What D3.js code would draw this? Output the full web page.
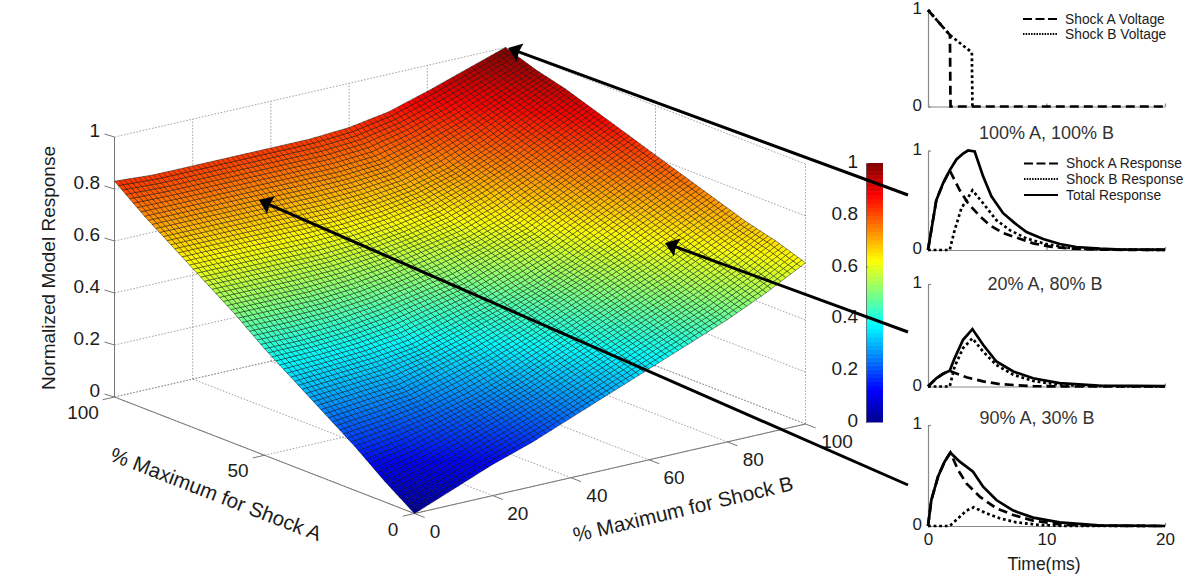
<!DOCTYPE html>
<html>
<head>
<meta charset="utf-8">
<title>Normalized model response</title>
<script src="https://cdn.jsdelivr.net/npm/d3@7"></script>
<style>
  html, body { margin: 0; background: #fff; }
  svg { display: block; }
  text { font-family: "Liberation Sans", Arial, sans-serif; fill: #1c1c1c; }
</style>
</head>
<body>
<svg id="chart" width="1200" height="579"></svg>
<script>
// values
const shockA = [0, 10, 20, 30, 40, 50, 60, 70, 80, 90, 100];
const shockB = [0, 10, 20, 30, 40, 50, 60, 70, 80, 90, 100];
// one row per shockA value, one column per shockB value
const responseGrid = [
  [0.00, 0.06, 0.12, 0.17, 0.23, 0.29, 0.35, 0.41, 0.47, 0.54, 0.62],
  [0.08, 0.12, 0.17, 0.22, 0.27, 0.33, 0.39, 0.45, 0.51, 0.58, 0.66],
  [0.17, 0.19, 0.22, 0.26, 0.31, 0.37, 0.43, 0.49, 0.55, 0.62, 0.69],
  [0.25, 0.265, 0.28, 0.32, 0.36, 0.41, 0.47, 0.53, 0.59, 0.66, 0.73],
  [0.33, 0.34, 0.35, 0.37, 0.41, 0.45, 0.50, 0.56, 0.63, 0.70, 0.77],
  [0.41, 0.41, 0.42, 0.44, 0.47, 0.50, 0.55, 0.60, 0.67, 0.74, 0.81],
  [0.50, 0.50, 0.50, 0.51, 0.53, 0.56, 0.59, 0.64, 0.71, 0.78, 0.85],
  [0.58, 0.58, 0.58, 0.58, 0.59, 0.61, 0.64, 0.69, 0.75, 0.82, 0.89],
  [0.66, 0.66, 0.66, 0.66, 0.66, 0.67, 0.69, 0.73, 0.79, 0.86, 0.93],
  [0.74, 0.74, 0.74, 0.74, 0.74, 0.74, 0.75, 0.79, 0.84, 0.90, 0.96],
  [0.83, 0.82, 0.82, 0.82, 0.82, 0.82, 0.83, 0.855, 0.90, 0.95, 1.00]
];
const zTicks = [0, 0.2, 0.4, 0.6, 0.8, 1];
const shockATicks = [0, 50, 100];
const shockBTicks = [0, 20, 40, 60, 80, 100];

const voltageA = [[0, 1], [1.85, 0.74], [1.9, 0], [20, 0]];
const voltageB = [[0, 1], [1.85, 0.74], [3.7, 0.56], [3.75, 0]];

const total100x100 = [[0, 0], [0.28, 0.2], [0.7, 0.5], [1.27, 0.67], [1.83, 0.8], [2.4, 0.91], [2.96, 0.97], [3.38, 1], [3.94, 0.99], [4.65, 0.74], [5.35, 0.54], [6.34, 0.37], [7.32, 0.27], [8.31, 0.18], [9.72, 0.11], [11.13, 0.06], [12.5, 0.03], [14.5, 0.013], [15.9, 0.007], [20, 0.003]];
const shockA100x100 = [[0, 0], [0.28, 0.2], [0.7, 0.5], [1.27, 0.67], [1.83, 0.8], [2.68, 0.6], [3.38, 0.47], [4.37, 0.34], [5.2, 0.25], [6.34, 0.17], [7.46, 0.125], [8.87, 0.067], [10.3, 0.034], [12.25, 0.013], [14.5, 0.003], [20, 0]];
const shockB100x100 = [[0, 0], [1.83, 0], [2.25, 0.2], [2.82, 0.42], [3.24, 0.5], [3.75, 0.6], [4.65, 0.47], [5.77, 0.3], [6.9, 0.2], [8.3, 0.117], [9.72, 0.067], [11.7, 0.023], [14.5, 0.007], [20, 0]];

const total20x80 = [[0, 0], [0.7, 0.08], [1.27, 0.124], [1.83, 0.153], [2.25, 0.277], [2.96, 0.456], [3.75, 0.56], [4.65, 0.407], [5.77, 0.244], [7.2, 0.147], [8.87, 0.08], [11.1, 0.033], [14.4, 0.01], [20, 0.003]];
const shockA20x80 = [[0, 0], [0.7, 0.08], [1.27, 0.124], [1.83, 0.153], [3.24, 0.09], [4.65, 0.05], [6.06, 0.023], [8.87, 0.003], [11.7, 0], [20, 0]];
const shockB20x80 = [[0, 0], [1.83, 0], [2.25, 0.195], [2.96, 0.375], [3.75, 0.47], [4.65, 0.34], [5.77, 0.21], [7.2, 0.114], [8.87, 0.055], [11.1, 0.016], [14.4, 0.003], [20, 0]];

const total90x30 = [[0, 0], [0.28, 0.257], [0.85, 0.49], [1.4, 0.637], [1.89, 0.726], [2.68, 0.637], [3.8, 0.538], [4.65, 0.389], [5.77, 0.257], [7.2, 0.152], [8.87, 0.083], [11.1, 0.036], [14.4, 0.007], [20, 0]];
const shockA90x30 = [[0, 0], [0.28, 0.257], [0.85, 0.49], [1.4, 0.637], [1.89, 0.726], [2.54, 0.554], [3.24, 0.422], [4.37, 0.29], [5.77, 0.175], [7.2, 0.109], [8.87, 0.053], [11.1, 0.017], [14.4, 0.003], [20, 0]];
const shockB90x30 = [[0, 0], [1.83, 0], [2.54, 0.076], [3.24, 0.152], [3.86, 0.185], [4.93, 0.125], [6.06, 0.076], [7.46, 0.036], [9.44, 0.01], [11.7, 0], [20, 0]];

const jetStops = [0, 0.125, 0.375, 0.625, 0.875, 1];
const jetColors = ["#00008f", "#0000ff", "#00ffff", "#ffff00", "#ff0000", "#800000"];

const svg = d3.select("#chart");
const jet = d3.scaleLinear().domain(jetStops).range(jetColors).interpolate(d3.interpolateRgb);

// oblique box: every data axis adds its own pixel offset
const originX = 414.5, originY = 513.5;
const aX = d3.scaleLinear().domain([0, 100]).range([0, -300]);
const aY = d3.scaleLinear().domain([0, 100]).range([0, -116.5]);
const bX = d3.scaleLinear().domain([0, 100]).range([0, 391]);
const bY = d3.scaleLinear().domain([0, 100]).range([0, -89.5]);
const zY = d3.scaleLinear().domain([0, 1]).range([0, -260]);
const px = (a, b) => originX + aX(a) + bX(b);
const py = (a, b, z) => originY + aY(a) + bY(b) + zY(z);

function seg(g, a0, b0, z0, a1, b1, z1) {
  return g.append("line")
      .attr("x1", px(a0, b0)).attr("y1", py(a0, b0, z0))
      .attr("x2", px(a1, b1)).attr("y2", py(a1, b1, z1));
}

// dotted box grid
const grid = svg.append("g")
    .attr("stroke", "#8c8c8c")
    .attr("stroke-width", 0.8)
    .attr("stroke-dasharray", "1.6 1.6");
shockATicks.forEach(a => {
  seg(grid, a, 0, 0, a, 100, 0);
  seg(grid, a, 100, 0, a, 100, 1);
});
shockBTicks.forEach(b => {
  seg(grid, 0, b, 0, 100, b, 0);
  seg(grid, 100, b, 0, 100, b, 1);
});
zTicks.forEach(z => {
  seg(grid, 100, 0, z, 100, 100, z);
  seg(grid, 100, 100, z, 0, 100, z);
});

// solid axes and ticks
const axes = svg.append("g").attr("stroke", "#777").attr("stroke-width", 1);
seg(axes, 100, 0, 0, 100, 0, 1);
seg(axes, 0, 0, 0, 100, 0, 0);
seg(axes, 0, 0, 0, 0, 100, 0);
zTicks.forEach(z => seg(axes, 100, 0, z, 100, 0, z).attr("x2", px(100, 0) - 10).attr("y2", py(100, 0, z) - 3));
shockATicks.forEach(a => seg(axes, a, 0, 0, a, -3, 0));
shockBTicks.forEach(b => seg(axes, 0, b, 0, -3.4, b, 0));

// the table holds the values; the finer mesh below only
// subdivides its cells for drawing, at about the density of the original mesh
const meshPerStep = 8;
function zAt(i, j) {
  const r = i / meshPerStep, c = j / meshPerStep;
  const r0 = Math.min(Math.floor(r), shockA.length - 2), c0 = Math.min(Math.floor(c), shockB.length - 2);
  const fr = r - r0, fc = c - c0;
  const top = d3.interpolateNumber(responseGrid[r0][c0], responseGrid[r0][c0 + 1])(fc);
  const bot = d3.interpolateNumber(responseGrid[r0 + 1][c0], responseGrid[r0 + 1][c0 + 1])(fc);
  return d3.interpolateNumber(top, bot)(fr);
}
const meshA = d3.range((shockA.length - 1) * meshPerStep);
const meshB = d3.range((shockB.length - 1) * meshPerStep);
const stepA = (shockA[1] - shockA[0]) / meshPerStep;
const stepB = (shockB[1] - shockB[0]) / meshPerStep;
const cells = d3.cross(meshA, meshB).map(([i, j]) => ({
  corners: [[i, j], [i + 1, j], [i + 1, j + 1], [i, j + 1]].map(([r, c]) => [r * stepA, c * stepB, zAt(r, c)])
}));
const cellLine = d3.line().x(d => px(d[0], d[1])).y(d => py(d[0], d[1], d[2])).curve(d3.curveLinearClosed);

svg.append("g")
    .attr("stroke", "#000")
    .attr("stroke-opacity", 0.62)
    .attr("stroke-width", 0.7)
  .selectAll("path")
  .data(cells)
  .join("path")
    .attr("d", d => cellLine(d.corners))
    .attr("fill", d => jet(d3.mean(d.corners, c => c[2])));

// box tick labels
const bigFont = 19;
const bLabelDx = [20.5, 25, 26, 25, 26, 31.5];
const labels = svg.append("g").attr("font-size", bigFont);
labels.selectAll(".z")
  .data(zTicks)
  .join("text")
    .attr("x", 100)
    .attr("y", d => py(100, 0, d) - 7)
    .attr("dy", "0.35em")
    .attr("text-anchor", "end")
    .text(d => d);
labels.selectAll(".a")
  .data(shockATicks)
  .join("text")
    .attr("x", d => px(d, 0) - 21.5 - d / 10)
    .attr("y", d => py(d, 0, 0) + 15.5)
    .attr("dy", "0.35em")
    .attr("text-anchor", "middle")
    .text(d => d);
labels.selectAll(".b")
  .data(shockBTicks)
  .join("text")
    .attr("x", (d, i) => px(0, d) + bLabelDx[i])
    .attr("y", d => py(0, d, 0) + 17.5)
    .attr("dy", "0.35em")
    .attr("text-anchor", "middle")
    .text(d => d);

labels.append("text")
    .attr("transform", "translate(48,268) rotate(-90)")
    .attr("dy", "0.35em")
    .attr("text-anchor", "middle")
    .text("Normalized Model Response");
labels.append("text")
    .attr("transform", "translate(216,494) rotate(21.2)")
    .attr("dy", "0.35em")
    .attr("text-anchor", "middle")
    .attr("font-size", 20.6)
    .text("% Maximum for Shock A");
labels.append("text")
    .attr("transform", "translate(683,509) rotate(-13.5)")
    .attr("dy", "0.35em")
    .attr("text-anchor", "middle")
    .attr("font-size", 20.6)
    .text("% Maximum for Shock B");

// colorbar
const barScale = d3.scaleLinear().domain([0, 1]).range([422, 163]);
const levels = d3.range(64).map(i => i / 64);
svg.append("g")
  .selectAll("rect")
  .data(levels)
  .join("rect")
    .attr("x", 866)
    .attr("width", 17)
    .attr("y", d => barScale(d + 1 / 64))
    .attr("height", d => barScale(d) - barScale(d + 1 / 64) + 0.5)
    .attr("fill", d => jet(d + 1 / 128));
svg.append("g")
    .attr("transform", "translate(866,0)")
    .call(d3.axisLeft(barScale).tickValues(zTicks).tickSize(-2).tickPadding(8).tickFormat(d => d))
    .call(g => g.select(".domain").attr("stroke", "#666").attr("stroke-width", 0.8))
    .call(g => g.selectAll(".tick line").attr("stroke", "#666"))
    .call(g => g.selectAll(".tick text").attr("font-size", bigFont).attr("font-family", null).attr("y", -1.5));

// the small time plots
const timeX = d3.scaleLinear().domain([0, 20]).range([928, 1165]);
const timeLine = d3.line().x(d => timeX(d[0]));
const dashStyle = "9 5", dotStyle = "2.8 2.8";
const panels = [
  { top: 10, bottom: 106.5, curves: [[voltageB, dotStyle], [voltageA, dashStyle]] },
  { top: 150.5, bottom: 250, title: "100% A, 100% B", titleX: 1046.5, titleY: 133,
    curves: [[shockB100x100, dotStyle], [shockA100x100, dashStyle], [total100x100, null]] },
  { top: 284, bottom: 386.5, title: "20% A, 80% B", titleX: 1045, titleY: 284,
    curves: [[shockB20x80, dotStyle], [shockA20x80, dashStyle], [total20x80, null]] },
  { top: 425, bottom: 526, title: "90% A, 30% B", titleX: 1037, titleY: 418, labels: true,
    curves: [[shockB90x30, dotStyle], [shockA90x30, dashStyle], [total90x30, null]] }
];
const smallFont = 17;
panels.forEach(p => {
  const y = d3.scaleLinear().domain([0, 1]).range([p.bottom, p.top]);
  const g = svg.append("g");
  g.append("g")
      .attr("transform", `translate(928,0)`)
      .call(d3.axisLeft(y).tickValues([0, 1]).tickSize(-3).tickPadding(6).tickSizeOuter(0).tickFormat(d => d))
      .call(a => a.selectAll("text").attr("font-size", smallFont).attr("font-family", null).attr("y", -1.5));
  g.append("g")
      .attr("transform", `translate(0,${p.bottom})`)
      .call(d3.axisBottom(timeX).tickValues([0, 10, 20]).tickSize(-3).tickPadding(7).tickSizeOuter(0)
        .tickFormat(d => p.labels ? d : ""))
      .call(a => a.selectAll("text").attr("font-size", smallFont).attr("font-family", null));
  g.selectAll(".domain, .tick line").attr("stroke", "#888").attr("stroke-width", 1.2);
  if (p.title) {
    g.append("text")
        .attr("x", p.titleX)
        .attr("y", p.titleY)
        .attr("dy", "0.35em")
        .attr("text-anchor", "middle")
        .attr("font-size", 18)
        .style("fill", "#333")
        .text(p.title);
  }
  g.selectAll("path.curve")
    .data(p.curves)
    .join("path")
      .attr("class", "curve")
      .attr("fill", "none")
      .attr("stroke", "#000")
      .attr("stroke-width", 2.7)
      .attr("stroke-dasharray", d => d[1])
      .attr("d", d => timeLine.y(v => y(v[1]))(d[0]));
});
svg.append("text")
    .attr("x", 1044).attr("y", 564)
    .attr("dy", "0.35em")
    .attr("text-anchor", "middle")
    .attr("font-size", 17.5)
    .text("Time(ms)");

// legends
function legend(x, rows) {
  const g = svg.append("g");
  rows.forEach(r => {
    g.append("line")
        .attr("x1", x).attr("x2", x + 34)
        .attr("y1", r.y).attr("y2", r.y)
        .attr("stroke", "#000")
        .attr("stroke-width", 2)
        .attr("stroke-dasharray", r.dash);
    g.append("text")
        .attr("x", x + 42).attr("y", r.y)
        .attr("dy", "0.35em")
        .attr("font-size", 13.8)
        .text(r.label);
  });
}
legend(1023, [
  { y: 19, dash: "9 3.5", label: "Shock A Voltage" },
  { y: 34, dash: "1.5 1.2", label: "Shock B Voltage" }
]);
legend(1024, [
  { y: 163.5, dash: "9 3.5", label: "Shock A Response" },
  { y: 179, dash: "1.5 1.2", label: "Shock B Response" },
  { y: 195, dash: null, label: "Total Response" }
]);

// arrows from the small plots to the surface
const arrows = [
  { from: [908, 195], to: [508, 48] },
  { from: [908, 332], to: [665, 243] },
  { from: [908, 485], to: [259, 200] }
];
const arrowG = svg.append("g");
arrows.forEach(({from, to}) => {
  const angle = Math.atan2(from[1] - to[1], from[0] - to[0]);
  const deg = angle * 180 / Math.PI;
  arrowG.append("line")
      .attr("x1", from[0]).attr("y1", from[1])
      .attr("x2", to[0] + 10 * Math.cos(angle)).attr("y2", to[1] + 10 * Math.sin(angle))
      .attr("stroke", "#000")
      .attr("stroke-width", 3);
  arrowG.append("path")
      .attr("transform", `translate(${to[0]},${to[1]}) rotate(${deg})`)
      .attr("d", "M0,0L13,-9.5L11.5,0L13,9.5Z")
      .attr("fill", "#000");
});
</script>
</body>
</html>
